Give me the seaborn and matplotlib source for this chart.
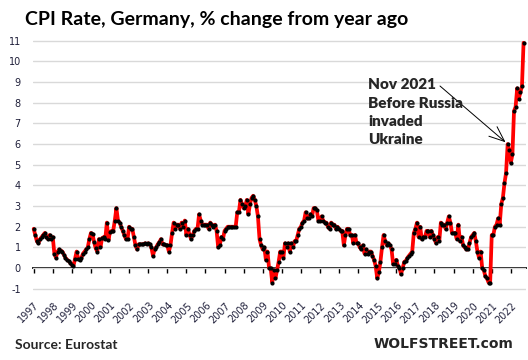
import numpy as np
import pandas as pd
import matplotlib
matplotlib.use("Agg")
import matplotlib.pyplot as plt
import seaborn as sns
from matplotlib.transforms import ScaledTranslation

# ---- data (monthly % change from year ago) ----
years = list(range(1997, 2023))
cpi_1997 = [1.9, 1.6, 1.3, 1.2, 1.4, 1.5, 1.6, 1.7, 1.5, 1.4, 1.6, 1.4]
cpi_1998 = [1.5, 0.7, 0.5, 0.8, 0.9, 0.85, 0.8, 0.65, 0.5, 0.4, 0.35, 0.25]
cpi_1999 = [0.15, 0.1, 0.45, 0.8, 0.45, 0.4, 0.5, 0.7, 0.8, 0.9, 1.0, 1.4]
cpi_2000 = [1.7, 1.65, 1.25, 0.95, 0.8, 1.4, 1.0, 1.45, 1.5, 1.4, 2.2, 1.35]
cpi_2001 = [1.75, 1.8, 1.8, 2.3, 2.9, 2.3, 2.2, 2.0, 1.8, 1.6, 1.4, 1.4]
cpi_2002 = [2.0, 1.9, 1.9, 1.5, 1.1, 0.9, 1.15, 1.15, 1.15, 1.15, 1.2, 1.15]
cpi_2003 = [1.2, 1.15, 1.0, 0.6, 0.9, 1.0, 1.15, 1.25, 1.4, 1.15, 1.15, 1.1]
cpi_2004 = [1.1, 0.8, 1.1, 1.7, 2.2, 1.9, 2.1, 2.1, 1.9, 2.2, 2.0, 2.3]
cpi_2005 = [1.6, 1.9, 1.6, 1.4, 1.6, 1.8, 1.9, 1.9, 2.6, 2.3, 2.1, 2.1]
cpi_2006 = [2.1, 2.1, 1.9, 2.2, 2.1, 2.0, 2.1, 1.8, 1.0, 1.1, 1.5, 1.4]
cpi_2007 = [1.8, 1.9, 2.0, 2.0, 2.0, 2.0, 2.0, 2.0, 2.7, 2.7, 3.3, 3.1]
cpi_2008 = [2.9, 3.0, 3.3, 2.6, 3.1, 3.4, 3.5, 3.3, 3.0, 2.5, 1.4, 1.1]
cpi_2009 = [0.9, 1.0, 0.4, 0.8, 0.0, 0.0, -0.7, -0.1, -0.5, -0.1, 0.3, 0.8]
cpi_2010 = [0.8, 0.5, 1.2, 1.0, 1.2, 0.8, 1.2, 1.0, 1.3, 1.3, 1.6, 1.9]
cpi_2011 = [2.0, 2.2, 2.3, 2.7, 2.4, 2.4, 2.6, 2.5, 2.9, 2.9, 2.8, 2.3]
cpi_2012 = [2.3, 2.5, 2.3, 2.2, 2.2, 2.0, 1.9, 2.2, 2.1, 2.1, 1.9, 2.0]
cpi_2013 = [1.9, 1.8, 1.8, 1.1, 1.6, 1.9, 1.9, 1.6, 1.6, 1.2, 1.6, 1.2]
cpi_2014 = [1.2, 1.0, 0.9, 1.1, 0.7, 0.9, 0.7, 0.8, 0.8, 0.6, 0.4, 0.1]
cpi_2015 = [-0.5, -0.2, 0.3, 1.0, 1.6, 1.3, 1.1, 1.2, 1.1, 0.9, 0.2, 0.2]
cpi_2016 = [0.4, 0.1, 0.0, -0.3, 0.0, 0.3, 0.35, 0.5, 0.6, 0.7, 0.8, 1.7]
cpi_2017 = [1.9, 2.2, 1.5, 2.0, 1.4, 1.5, 1.5, 1.8, 1.8, 1.5, 1.8, 1.6]
cpi_2018 = [1.4, 1.2, 1.5, 1.3, 2.2, 2.1, 2.1, 1.9, 2.2, 2.5, 2.2, 1.7]
cpi_2019 = [1.7, 1.7, 1.4, 2.1, 1.3, 1.5, 1.1, 1.0, 0.9, 0.9, 1.2, 1.5]
cpi_2020 = [1.6, 1.7, 1.3, 0.8, 0.5, 0.8, 0.0, -0.1, -0.4, -0.5, -0.7, -0.7]
cpi_2021 = [1.6, 1.6, 2.0, 2.1, 2.4, 2.1, 3.1, 3.4, 4.1, 4.6, 6.0, 5.7]
cpi_2022 = [5.1, 5.5, 7.6, 7.8, 8.7, 8.2, 8.5, 8.8, 10.9]

series = [cpi_1997, cpi_1998, cpi_1999, cpi_2000, cpi_2001, cpi_2002, cpi_2003,
          cpi_2004, cpi_2005, cpi_2006, cpi_2007, cpi_2008, cpi_2009, cpi_2010,
          cpi_2011, cpi_2012, cpi_2013, cpi_2014, cpi_2015, cpi_2016, cpi_2017,
          cpi_2018, cpi_2019, cpi_2020, cpi_2021, cpi_2022]
t, v = [], []
for y, vals in zip(years, series):
    for m, val in enumerate(vals):
        t.append(y + m / 12.0)
        v.append(val)
df = pd.DataFrame({"t": t, "cpi": v})

title = "CPI Rate, Germany, % change from year ago"
note = "Nov 2021\nBefore Russia\ninvaded\nUkraine"
source = "Source: Eurostat"
brand = "WOLFSTREET.com"

sns.set_style("white")
plt.rcParams["font.family"] = ["DejaVu Sans"]

W, H = 528, 360
fig = plt.figure(figsize=(W / 100, H / 100), dpi=100)
ymin, ymax = -1.4, 11.2
ax = fig.add_axes([33.3 / W, 63 / H, (526.1 - 33.3) / W, (297.3 - 36.9) / H])

sns.lineplot(data=df, x="t", y="cpi", ax=ax, color="#FF0000", linewidth=2.7,
             marker="o", markersize=3.0, markerfacecolor="black",
             markeredgecolor="black", markeredgewidth=0, zorder=3,
             solid_joinstyle="round", clip_on=False)

ax.set_xlim(1996.98, 2022.8)
ax.set_ylim(ymin, ymax)
ax.set_yticks(range(-1, 12))
ax.set_yticklabels([str(i) for i in range(-1, 12)], color="#1f1f3a", fontsize=7)
ax.grid(axis="y", color="#d9d9d9", linewidth=1)
ax.grid(axis="x", visible=False)
for s in ax.spines.values():
    s.set_visible(False)
ax.set_xlabel("")
ax.set_ylabel("")

ax.set_xticks(years)
ax.set_xticklabels([str(y) for y in years], rotation=45, ha="right",
                   rotation_mode="anchor", va="center", fontsize=7, color="#1f1f3a")
ax.tick_params(axis="x", length=0, pad=5)
ax.tick_params(axis="y", length=0, pad=9)
for lbl in ax.get_xticklabels():
    lbl.set_transform(lbl.get_transform() + ScaledTranslation(4 / 100, 0, fig.dpi_scale_trans))

# zero line with year ticks
sec = ax.secondary_xaxis((0 - ymin) / (ymax - ymin))
sec.set_xticks(years)
sec.tick_params(axis="x", direction="out", length=3.5, width=1, color="black",
                labelbottom=False, labeltop=False)
for s in sec.spines.values():
    s.set_color("black")
    s.set_linewidth(1.3)

# title and texts
fig.text(25 / W, 1 - 25 / H, title, fontsize=14, fontweight="bold",
         family=["Lato", "DejaVu Sans"], va="baseline", ha="left", color="black")
fig.text(368 / W, 1 - 78 / H, note, fontsize=11, fontweight="heavy",
         family=["Lato", "DejaVu Sans"], va="top", ha="left", linespacing=1.5)
nov_x = 2021 + 10 / 12.0
nov_v = cpi_2021[10]
ax.annotate("", xy=(nov_x, nov_v), xycoords="data",
            xytext=(440, H - 86), textcoords="figure pixels", fontsize=10,
            arrowprops=dict(arrowstyle="->,head_length=1.1,head_width=0.45",
                            color="black", lw=0.7, shrinkA=0, shrinkB=2))
fig.text(15 / W, 1 - 345 / H, source, fontsize=10, fontweight="bold",
         family=["Lato", "DejaVu Sans"], va="center", ha="left")
fig.text(513 / W, 1 - 344 / H, brand, fontsize=10, fontweight="bold",
         family=["DejaVu Sans"], va="center", ha="right")

fig.savefig("out.png", dpi=100)
